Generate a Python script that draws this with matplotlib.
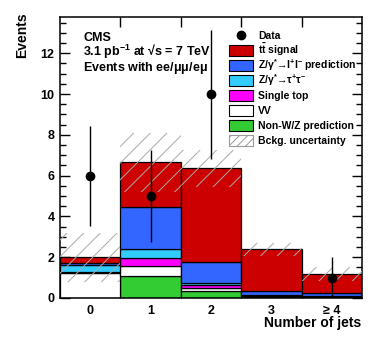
import matplotlib
matplotlib.use("Agg")
import matplotlib.pyplot as plt
from matplotlib.patches import Rectangle
import numpy as np

plt.rcParams['font.family'] = ['Liberation Sans', 'DejaVu Sans']
plt.rcParams['font.weight'] = 'bold'
plt.rcParams['mathtext.default'] = 'regular'
plt.rcParams['hatch.linewidth'] = 0.7

# ---- data ----
categories = ["0", "1", "2", "3", "\u2265 4"]
nonwz = [0.00, 1.09, 0.34, 0.05, 0.03]
vv = [1.22, 0.46, 0.15, 0.03, 0.02]
single_top = [0.06, 0.41, 0.15, 0.03, 0.02]
z_tautau = [0.34, 0.46, 0.12, 0.02, 0.02]
z_ll = [0.08, 2.04, 1.00, 0.20, 0.17]
ttbar = [0.30, 2.19, 4.60, 2.07, 0.92]
bkg_unc = [1.20, 1.45, 0.90, 0.32, 0.33]
data = [6, 5, 10, None, 1]
data_err = [2.45, 2.24, 3.16, None, 1.0]
yticks = [0, 2, 4, 6, 8, 10, 12]

series = [
    (nonwz, '#33cc33', 'Non-W/Z prediction'),
    (vv, '#ffffff', 'VV'),
    (single_top, '#ff00ff', 'Single top'),
    (z_tautau, '#33ccff', 'Z/\u03b3$^{*}$\u2192\u03c4$^{+}$\u03c4$^{-}$'),
    (z_ll, '#3366ff', 'Z/\u03b3$^{*}$\u2192l$^{+}$l$^{-}$ prediction'),
    (ttbar, '#cc0000', r't$\bar{t}$ signal'),
]

fig = plt.figure(figsize=(3.74, 3.44), dpi=100)
ax = fig.add_axes([60/374, 1-298/344, 302/374, 281/344])

x = np.arange(len(categories))
bottom = np.zeros(len(categories))
for vals, col, lab in series:
    v = np.array(vals)
    ax.bar(x, v, width=1.0, bottom=bottom, color=col, edgecolor='black',
           linewidth=0.9, zorder=2)
    bottom = bottom + v
total = bottom
unc = np.array(bkg_unc)
ax.bar(x, 2*unc, width=1.0, bottom=total-unc, color='none', edgecolor='#aaaaaa',
       linewidth=0, hatch='//', zorder=3)

for xi, d, e in zip(x, data, data_err):
    if d is None:
        continue
    ax.errorbar(xi, d, yerr=e, fmt='o', color='black', markersize=6,
                elinewidth=1.0, capsize=0, zorder=5)

ax.set_xlim(-0.5, len(categories)-0.5)
ax.set_ylim(0, 13.78)
ax.set_yticks(yticks)
ax.set_yticks(np.arange(0, 13.8, 0.5), minor=True)
ax.set_xticks(np.arange(len(categories)-1) + 0.5)
ax.set_xticklabels([])
ax.set_xticks(x, minor=True)
ax.set_xticklabels(categories, minor=True)
ax.tick_params(axis='both', which='major', direction='in', length=7, width=1.0,
               top=True, right=True, labelsize=9, pad=4)
ax.tick_params(axis='y', which='minor', direction='in', length=4, width=1.0,
               right=True)
ax.tick_params(axis='x', which='minor', length=0, labelsize=9, pad=5)
for lab in ax.get_xticklabels(minor=True) + ax.get_yticklabels():
    lab.set_fontweight('bold')
for s in ax.spines.values():
    s.set_linewidth(1.1)

fig.text(22/374, 1-12/344, 'Events', rotation=90, ha='center', va='top',
         fontsize=10, fontweight='bold')
fig.text(361/374, 1-323/344, 'Number of jets', ha='right', va='center',
         fontsize=10, fontweight='bold')

# text block (one multi-line text)
fig.text(83/374, 1-32/344,
         'CMS\n3.1 pb$^{-1}$ at \u221as = 7 TeV\nEvents with ee/$\\mu\\mu$/e$\\mu$',
         ha='left', va='top', fontsize=9, fontweight='bold', linespacing=0.9)

# legend drawn in pixel coordinates on an overlay axes
ov = fig.add_axes([0, 0, 1, 1], zorder=10)
ov.set_xlim(0, 374)
ov.set_ylim(344, 0)
ov.axis('off')
entries = [('marker', None, 'Data')]
for vals, col, lab in reversed(series):
    entries.append(('patch', col, lab))
entries.append(('hatch', None, 'Bckg. uncertainty'))
x0, x1, xt, y0, dy, hh = 229, 253, 258, 35, 15, 11
for i, (kind, col, lab) in enumerate(entries):
    yc = y0 + i*dy
    if kind == 'marker':
        ov.plot([(x0+x1)/2], [yc], 'o', color='black', markersize=6)
    elif kind == 'patch':
        ov.add_patch(Rectangle((x0, yc-hh/2), x1-x0, hh, facecolor=col,
                               edgecolor='black', linewidth=0.8))
    else:
        ov.add_patch(Rectangle((x0, yc-hh/2), x1-x0, hh, facecolor='white',
                               edgecolor='#999999', hatch='////', linewidth=0.8))
    ov.text(xt, yc+3.8, lab, ha='left', va='baseline', fontsize=7.5, fontweight='bold')

fig.savefig('out.png', dpi=100)
